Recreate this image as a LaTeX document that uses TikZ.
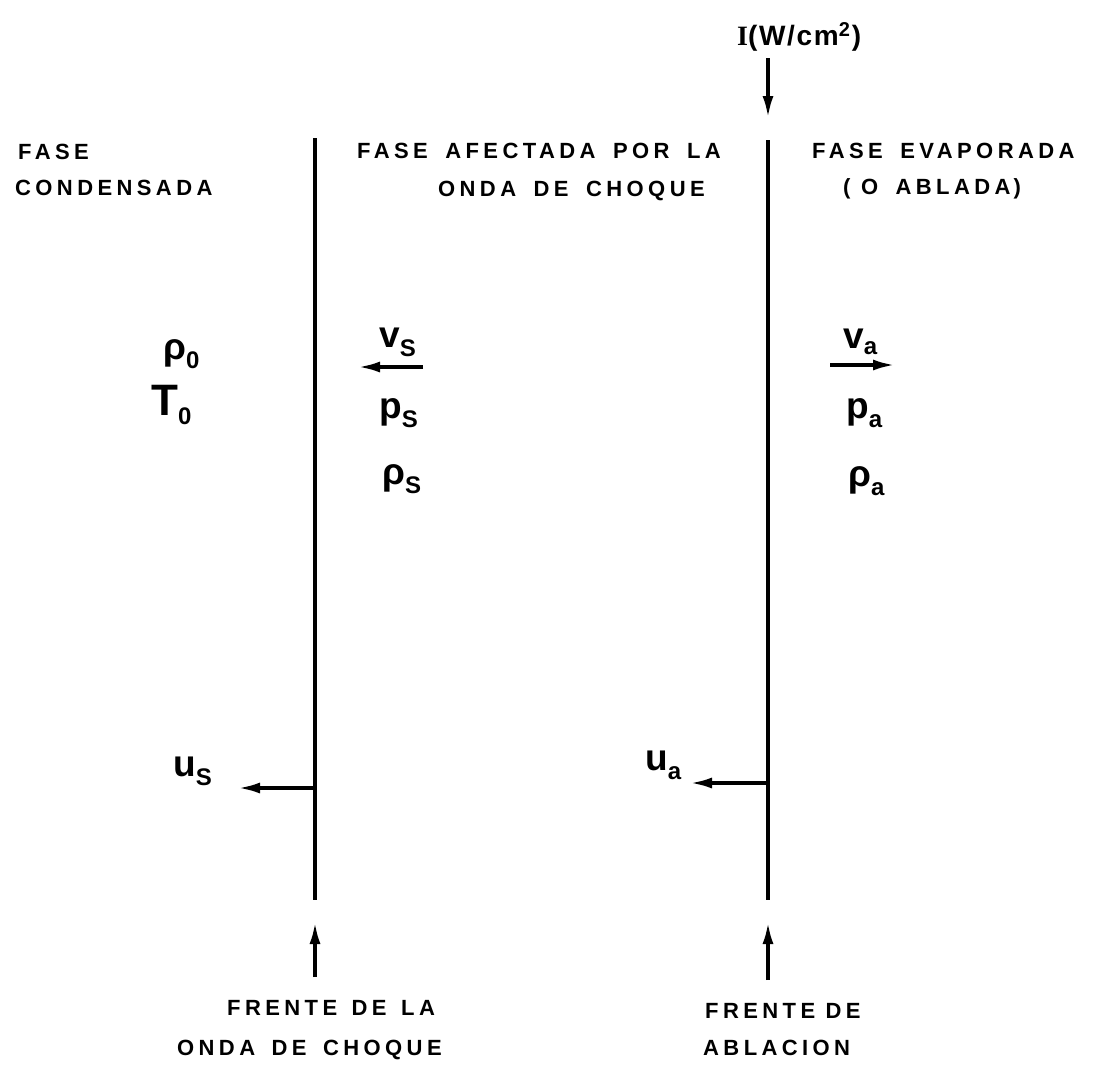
\documentclass[tikz,border=0pt]{standalone}
\usepackage{fontspec}
\setmainfont{Liberation Sans}
\newfontfamily\hdfont[LetterSpace=20]{Liberation Sans}
\newfontfamily\ifont[LetterSpace=6]{Liberation Sans}
\newfontfamily\symfont{Liberation Sans}
\newfontfamily\serI{Liberation Serif}
\usetikzlibrary{arrows.meta}
\newcommand\lo[1]{\raisebox{-9pt}{\fontsize{24}{24}\selectfont #1}}
\newcommand\loa[1]{\raisebox{-6pt}{\fontsize{24}{24}\selectfont #1}}
\newcommand\W{\ \hspace{7pt}}
\tikzset{
  hd/.style={inner sep=0, anchor=base west, font=\hdfont\bfseries\fontsize{22}{22}\selectfont},
  sym/.style={inner sep=0, anchor=base west, font=\symfont\bfseries\fontsize{37}{37}\selectfont},
  wall/.style={line width=3.5pt},
  arr/.style={line width=3.5pt, -{Latex[length=22pt,width=11pt]}}
}
\begin{document}
\begin{tikzpicture}[x=1pt,y=-1pt]
\useasboundingbox (0,0) rectangle (1096,1072);
% fronts
\coordinate (Ltop) at (315,138);
\coordinate (Lbot) at (315,900);
\coordinate (Rtop) at (768,140);
\coordinate (Rbot) at (768,900);
\draw[wall] (Ltop) -- (Lbot);
\draw[wall] (Rtop) -- (Rbot);
% headers
\node[hd] (h1a) at (18,159) {FASE};
\node[hd] (h1b) at (15,195) {CONDENSADA};
\node[hd] (h2a) at (357,158) {FASE\W AFECTADA\W POR\W LA};
\node[hd] (h2b) at (438,196) {ONDA\W DE\W CHOQUE};
\node[hd] (h3a) at (812,158) {FASE\W EVAPORADA};
\node[hd] (h3b) at (843,194) {( O\W ABLADA\hspace{3pt})};
% intensity
\node[inner sep=0, anchor=base west, font=\ifont\bfseries\fontsize{28}{28}\selectfont] (I) at (737,45) {{\serI\bfseries I}(W/cm\raisebox{9pt}{\fontsize{20}{20}\selectfont 2}\hspace{2pt})};
\coordinate (Itail) at (768,58);
\coordinate (Itip) at (768,118);
\draw[arr] (Itail) -- (Itip);
% left region
\node[sym] (rho0) at (163,359) {ρ\lo{0}};
\node[sym, font=\symfont\bfseries\fontsize{44}{44}\selectfont] (T0) at (151,415) {T\lo{0}};
% middle region
\node[sym] (vs) at (379,347) {v\lo{S}};
\node[sym] (ps) at (379,418) {p\lo{S}};
\node[sym] (rhos) at (382,484) {ρ\lo{S}};
\coordinate (vsT) at (423,367);
\coordinate (vsH) at (358,367);
\draw[arr] (vsT) -- (vsH);
% right region
\node[sym] (va) at (843,348) {v\loa{a}};
\node[sym] (pa) at (846,418) {p\lo{a}};
\node[sym] (rhoa) at (848,486) {ρ\lo{a}};
\coordinate (vaT) at (830,365);
\coordinate (vaH) at (895,365);
\draw[arr] (vaT) -- (vaH);
% front velocities
\node[sym] (us) at (173,776) {u\lo{S}};
\node[sym] (ua) at (645,770) {u\lo{a}};
\coordinate (usT) at (315,788);
\coordinate (usH) at (238,788);
\draw[arr] (usT) -- (usH);
\coordinate (uaT) at (768,783);
\coordinate (uaH) at (690,783);
\draw[arr] (uaT) -- (uaH);
% bottom labels
\coordinate (fsT) at (315,977);
\coordinate (fsH) at (315,922);
\draw[arr] (fsT) -- (fsH);
\coordinate (faT) at (768,980);
\coordinate (faH) at (768,922);
\draw[arr] (faT) -- (faH);
\node[hd] (f1a) at (227,1015) {FRENTE\hspace{4pt} DE\hspace{4pt} LA};
\node[hd] (f1b) at (177,1055) {ONDA\hspace{6pt} DE\hspace{6pt} CHOQUE};
\node[hd] (f2a) at (705,1018) {FRENTE DE};
\node[hd] (f2b) at (703,1055) {ABLACION};
\end{tikzpicture}
\end{document}
